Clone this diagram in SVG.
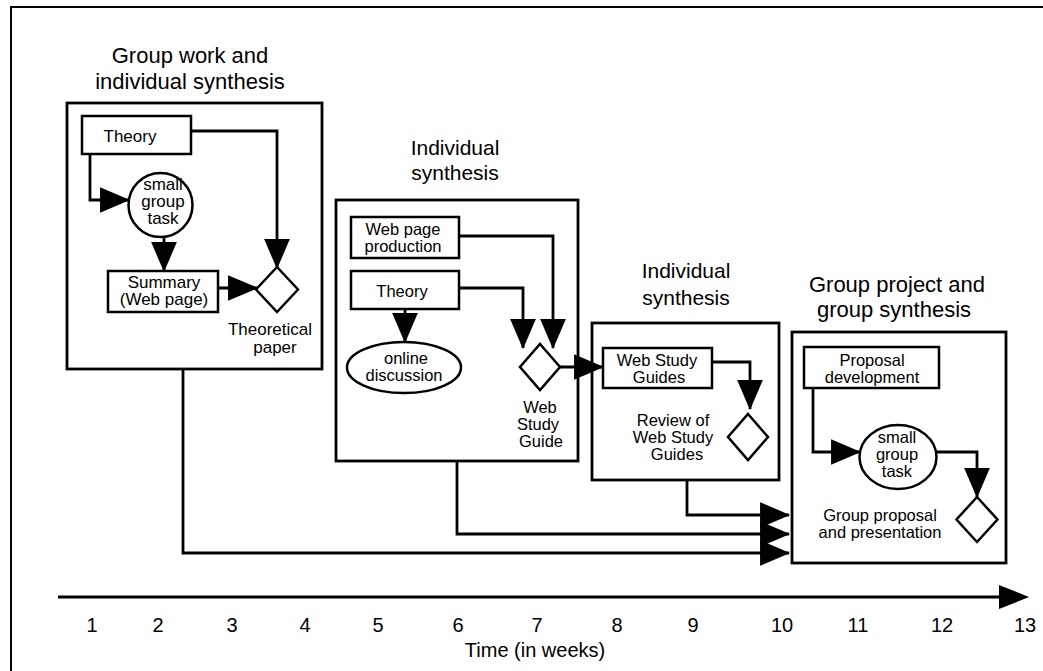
<svg xmlns="http://www.w3.org/2000/svg" width="1043" height="671" viewBox="0 0 1043 671">
  <style>
    text { font-family: "Liberation Sans", Arial, sans-serif; fill: #000; text-anchor: middle; }
    .h { font-size: 22px; }
    .h2 { font-size: 21px; }
    .t { font-size: 17px; }
    .s { font-size: 16.5px; }
    .n { font-size: 20px; }
    .box { fill: #fff; stroke: #000; stroke-width: 2.8; }
    .node { fill: #fff; stroke: #000; stroke-width: 2.5; }
    .wire { fill: none; stroke: #000; stroke-width: 2.8; marker-end: url(#head); }
  </style>
  <defs>
    <marker id="head" markerUnits="userSpaceOnUse" markerWidth="30" markerHeight="26" viewBox="0 0 28 24" refX="27" refY="12" orient="auto">
      <path d="M0,0 L28,12 L0,24 Z" fill="#000"/>
    </marker>
  </defs>

  <rect width="1043" height="671" fill="#fff"/>
  <!-- frame edges -->
  <path d="M11,671 V7 H1043" fill="none" stroke="#000" stroke-width="2"/>

  <!-- phase 1 -->
  <g id="phase1">
    <text class="h" x="190" y="63">Group work and</text>
    <text class="h" x="190" y="89">individual synthesis</text>
    <rect class="box" x="67" y="103" width="255" height="266"/>
  </g>
  <g id="p1-theory">
    <rect class="node" x="82" y="116" width="109" height="38"/>
    <text class="t" x="130" y="142">Theory</text>
  </g>
  <g id="p1-task">
    <circle class="node" cx="160.5" cy="205" r="32"/>
    <text class="t" x="163" y="190">small</text>
    <text class="t" x="163" y="207">group</text>
    <text class="t" x="163" y="224">task</text>
  </g>
  <g id="p1-summary">
    <rect class="node" x="108" y="271" width="110" height="41"/>
    <text class="t" x="164" y="288">Summary</text>
    <text class="t" x="164" y="305">(Web page)</text>
  </g>
  <g id="p1-paper">
    <polygon class="node" points="277,267 298,289.5 277,312 256,289.5"/>
    <text class="t" x="270" y="335">Theoretical</text>
    <text class="t" x="275" y="353">paper</text>
  </g>

  <!-- phase 2 -->
  <g id="phase2">
    <text class="h2" x="455" y="155">Individual</text>
    <text class="h2" x="455" y="180">synthesis</text>
    <rect class="box" x="336" y="200" width="242" height="261"/>
  </g>
  <g id="p2-webpage">
    <rect class="node" x="351" y="217" width="108" height="41"/>
    <text class="s" x="403" y="235">Web page</text>
    <text class="s" x="403" y="252">production</text>
  </g>
  <g id="p2-theory">
    <rect class="node" x="351" y="271" width="108" height="38"/>
    <text class="s" x="402" y="297">Theory</text>
  </g>
  <g id="p2-discussion">
    <ellipse class="node" cx="404" cy="367.5" rx="57" ry="25.5"/>
    <text class="s" x="406" y="364">online</text>
    <text class="s" x="404" y="381">discussion</text>
  </g>
  <g id="p2-guide">
    <polygon class="node" points="540,344 560,367 540,390 520,367"/>
    <text class="s" x="540" y="413">Web</text>
    <text class="s" x="538" y="430">Study</text>
    <text class="s" x="541" y="447">Guide</text>
  </g>

  <!-- phase 3 -->
  <g id="phase3">
    <text class="h2" x="686" y="278">Individual</text>
    <text class="h2" x="686" y="305">synthesis</text>
    <rect class="box" x="592" y="323" width="187" height="157"/>
  </g>
  <g id="p3-guides">
    <rect class="node" x="603" y="348" width="109" height="40"/>
    <text class="s" x="657" y="366">Web Study</text>
    <text class="s" x="659" y="383">Guides</text>
  </g>
  <g id="p3-review">
    <polygon class="node" points="748,414 768,437 748,460 728,437"/>
    <text class="s" x="673" y="426">Review of</text>
    <text class="s" x="673" y="443">Web Study</text>
    <text class="s" x="677" y="460">Guides</text>
  </g>

  <!-- phase 4 -->
  <g id="phase4">
    <text class="h" x="897" y="292">Group project and</text>
    <text class="h" x="894" y="317">group synthesis</text>
    <rect class="box" x="792" y="332" width="214" height="231"/>
  </g>
  <g id="p4-proposal">
    <rect class="node" x="804" y="347" width="135" height="41"/>
    <text class="s" x="872" y="366">Proposal</text>
    <text class="s" x="872" y="383">development</text>
  </g>
  <g id="p4-task">
    <ellipse class="node" cx="898" cy="457" rx="38.5" ry="32"/>
    <text class="s" x="897" y="443">small</text>
    <text class="s" x="897" y="460">group</text>
    <text class="s" x="897" y="477">task</text>
  </g>
  <g id="p4-presentation">
    <polygon class="node" points="977,497 997.5,519.5 977,542 956.5,519.5"/>
    <text class="s" x="880" y="521">Group proposal</text>
    <text class="s" x="880" y="538">and presentation</text>
  </g>

  <!-- connectors -->
  <g id="connectors">
    <path class="wire" d="M90,154 V200 H129"/>
    <path class="wire" d="M164,237 V271"/>
    <path class="wire" d="M218,288 H257"/>
    <path class="wire" d="M191,131 H277 V268"/>

    <path class="wire" d="M405,309 V342"/>
    <path class="wire" d="M459,288 H523 V348"/>
    <path class="wire" d="M459,236 H553 V348"/>
    <path class="wire" d="M560,367 H603"/>

    <path class="wire" d="M712,362 H750 V409"/>

    <path class="wire" d="M813,388 V452 H860"/>
    <path class="wire" d="M937,452 H977 V497"/>

    <path class="wire" d="M183,369 V553 H789"/>
    <path class="wire" d="M457,461 V534 H789"/>
    <path class="wire" d="M687,480 V515 H789"/>
  </g>

  <!-- time axis -->
  <g id="axis">
    <path d="M58,597 H1000" stroke="#000" stroke-width="3"/>
    <polygon points="999,585 1029,597 999,609" fill="#000"/>
    <text class="n" x="92" y="632">1</text>
    <text class="n" x="158" y="632">2</text>
    <text class="n" x="232" y="632">3</text>
    <text class="n" x="305" y="632">4</text>
    <text class="n" x="378" y="632">5</text>
    <text class="n" x="458" y="632">6</text>
    <text class="n" x="537" y="632">7</text>
    <text class="n" x="617" y="632">8</text>
    <text class="n" x="693" y="632">9</text>
    <text class="n" x="782" y="632">10</text>
    <text class="n" x="858" y="632">11</text>
    <text class="n" x="942" y="632">12</text>
    <text class="n" x="1025" y="632">13</text>
    <text class="n" x="535" y="657">Time (in weeks)</text>
  </g>
</svg>
